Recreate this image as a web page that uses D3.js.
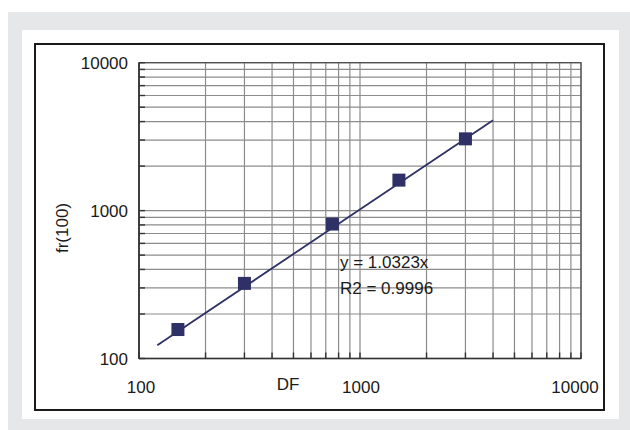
<!DOCTYPE html>
<html>
<head>
<meta charset="utf-8">
<script src="https://cdn.jsdelivr.net/npm/d3@7"></script>
<style>
  html, body { margin: 0; padding: 0; background: #ffffff; }
  svg { display: block; }
  text { font-family: "Liberation Sans", Arial, Helvetica, sans-serif; fill: #1a1a1a; }
</style>
</head>
<body>
<script>
// ---- data ----
const dfValues = [150, 300, 750, 1500, 3000];
const frValues = [157, 322, 811, 1607, 3056];
const trendX = [121, 4000];
const trendY = [123, 4084];
const xTickLabels = ["100", "1000", "10000"];
const yTickLabels = ["100", "1000", "10000"];
const xTickValues = [100, 1000, 10000];
const yTickValues = [100, 1000, 10000];
const xTitle = "DF";
const yTitle = "fr(100)";
const equationLines = ["y = 1.0323x", "R2 = 0.9996"];

const W = 630, H = 430;
const svg = d3.select("body").append("svg").attr("width", W).attr("height", H);

// background frames
svg.append("rect").attr("x", 8).attr("y", 12).attr("width", W - 8).attr("height", H - 12).attr("fill", "#e6e7e8");
svg.append("rect").attr("x", 22).attr("y", 30).attr("width", 597).attr("height", 389).attr("fill", "#ffffff");
svg.append("rect").attr("x", 35).attr("y", 44).attr("width", 569).attr("height", 366)
  .attr("fill", "none").attr("stroke", "#1a1a1a").attr("stroke-width", 2);

const L = 139, R = 581, T = 62.7, B = 358.5;
const x = d3.scaleLog().domain([100, 10000]).range([L, R]);
const y = d3.scaleLog().domain([100, 10000]).range([B, T]);

const grid = svg.append("g");
const xt = x.ticks();
const yt = y.ticks();
grid.selectAll("line.vx").data(xt).join("line")
  .attr("x1", d => x(d)).attr("x2", d => x(d)).attr("y1", T).attr("y2", B)
  .attr("stroke", "#8c8c8c").attr("stroke-width", 1.2);
grid.selectAll("line.hy").data(yt).join("line")
  .attr("y1", d => y(d)).attr("y2", d => y(d)).attr("x1", L).attr("x2", R)
  .attr("stroke", "#8c8c8c").attr("stroke-width", 1.2);

// plot border
svg.append("rect").attr("x", L).attr("y", T).attr("width", R - L).attr("height", B - T)
  .attr("fill", "none").attr("stroke", "#4a4a4a").attr("stroke-width", 1.2);

// inner ticks on axes
const ax = svg.append("g");
ax.selectAll("line.tx").data(xt).join("line")
  .attr("x1", d => x(d)).attr("x2", d => x(d)).attr("y1", B).attr("y2", B - 6)
  .attr("stroke", "#333").attr("stroke-width", 1.4);
ax.selectAll("line.ty").data(yt).join("line")
  .attr("y1", d => y(d)).attr("y2", d => y(d)).attr("x1", L).attr("x2", L + 6)
  .attr("stroke", "#333").attr("stroke-width", 1.4);
ax.append("line").attr("x1", L).attr("x2", R).attr("y1", B).attr("y2", B).attr("stroke", "#333").attr("stroke-width", 1.6);
ax.append("line").attr("x1", L).attr("x2", L).attr("y1", T).attr("y2", B).attr("stroke", "#333").attr("stroke-width", 1.6);

// tick labels
const fs = 17;
svg.selectAll("text.yl").data(yTickValues).join("text")
  .attr("x", 128).attr("y", d => y(d)).attr("dy", "0.36em")
  .attr("text-anchor", "end").attr("font-size", fs)
  .text((d, i) => yTickLabels[i]);
const xLabelShift = [2, 1, -6];
svg.selectAll("text.xl").data(xTickValues).join("text")
  .attr("x", (d, i) => x(d) + xLabelShift[i]).attr("y", 387).attr("dy", "0.36em")
  .attr("text-anchor", "middle").attr("font-size", fs)
  .text((d, i) => xTickLabels[i]);

svg.append("text").attr("x", 288).attr("y", 384).attr("dy", "0.36em")
  .attr("text-anchor", "middle").attr("font-size", fs).text(xTitle);
svg.append("text").attr("transform", "translate(62,228) rotate(-90)").attr("dy", "0.36em")
  .attr("text-anchor", "middle").attr("font-size", fs).text(yTitle);

// trendline
const line = d3.line().x(d => x(d[0])).y(d => y(d[1]));
svg.append("path").datum(trendX.map((v, i) => [v, trendY[i]]))
  .attr("d", line).attr("fill", "none").attr("stroke", "#2e3066").attr("stroke-width", 1.8);

// markers
const ms = 13;
svg.selectAll("rect.pt").data(dfValues).join("rect")
  .attr("x", d => x(d) - ms / 2).attr("y", (d, i) => y(frValues[i]) - ms / 2)
  .attr("width", ms).attr("height", ms).attr("fill", "#2e3066");

// equation
svg.selectAll("text.eq").data(equationLines).join("text")
  .attr("x", 340).attr("y", (d, i) => 262 + i * 26).attr("dy", "0.36em")
  .attr("font-size", fs).text(d => d);
</script>
</body>
</html>
